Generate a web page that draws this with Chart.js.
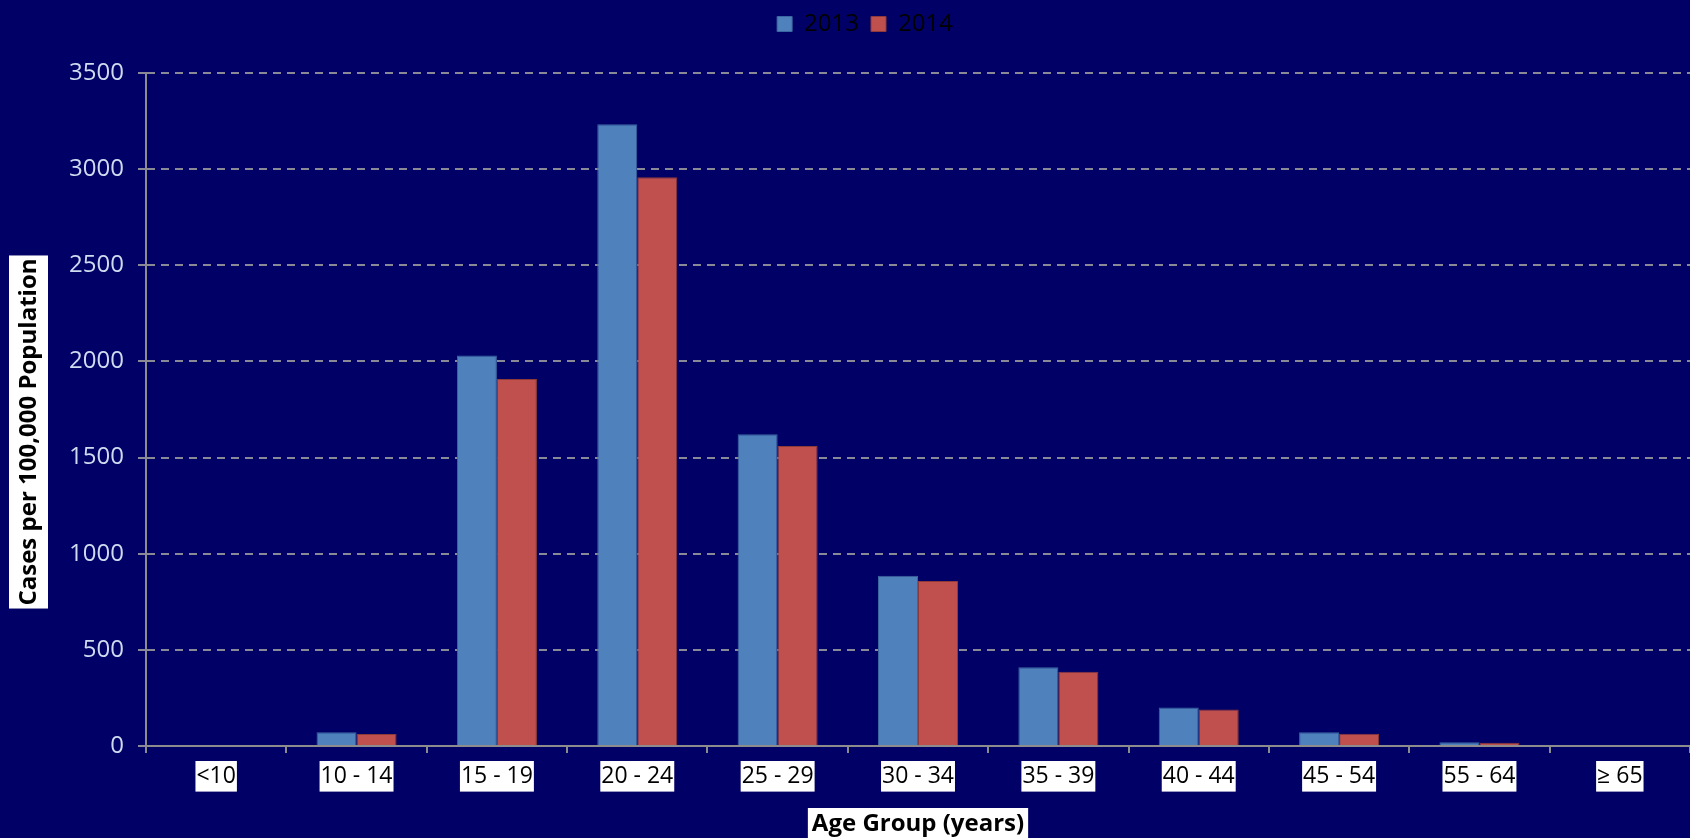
<!DOCTYPE html>
<html>
<head>
<meta charset="utf-8">
<script src="https://cdn.jsdelivr.net/npm/chart.js@4"></script>
<style>
  html, body { margin: 0; padding: 0; background: #000066; }
  #wrap { width: 1690px; height: 838px; }
</style>
</head>
<body>
<div id="wrap"><canvas id="chart"></canvas></div>
<script>
const ageGroups = ['<10', '10 - 14', '15 - 19', '20 - 24', '25 - 29', '30 - 34', '35 - 39', '40 - 44', '45 - 54', '55 - 64', '\u2265 65'];
const rates2013 = [0, 71, 2031, 3233, 1621, 886, 409, 200, 71, 19, 0];
const rates2014 = [0, 62, 1908, 2958, 1560, 858, 386, 190, 64, 17, 0];
const yTicks = [0, 500, 1000, 1500, 2000, 2500, 3000, 3500];

const FONT = "'Open Sans', sans-serif";

// axis titles sit on white boxes
const axisTitles = {
    id: 'axisTitles',
    afterDraw(chart) {
        const ctx = chart.ctx;
        const area = chart.chartArea;
        ctx.save();
        ctx.font = 'bold 24px ' + FONT;
        ctx.textAlign = 'center';
        ctx.textBaseline = 'middle';

        // x title
        const xt = 'Age Group (years)';
        const xw = ctx.measureText(xt).width + 8;
        const xc = (area.left + area.right) / 2;
        ctx.fillStyle = '#ffffff';
        ctx.fillRect(xc - xw / 2, 808, xw, 30);
        ctx.fillStyle = '#000000';
        ctx.fillText(xt, xc, 824);

        // y title
        const yt = 'Cases per 100,000 Population';
        const yw = ctx.measureText(yt).width + 6;
        ctx.translate(28.5, 432);
        ctx.rotate(-Math.PI / 2);
        ctx.fillStyle = '#ffffff';
        ctx.fillRect(-yw / 2, -19.5, yw, 39);
        ctx.fillStyle = '#000000';
        ctx.fillText(yt, 0, 1);
        ctx.restore();
    }
};

const bg = {
    id: 'bg',
    beforeDraw(chart) {
        const ctx = chart.ctx;
        ctx.save();
        ctx.fillStyle = '#000066';
        ctx.fillRect(0, 0, chart.width, chart.height);
        ctx.restore();
    }
};

// legend in the original sits a little right of the page centre
const legendShift = {
    id: 'legendShift',
    afterLayout(chart) {
        if (chart.legend) {
            chart.legend.left += 20;
            chart.legend.right += 20;
        }
    }
};

new Chart(document.getElementById('chart'), {
    type: 'bar',
    data: {
        labels: ageGroups,
        datasets: [
            {
                label: '2013',
                data: rates2013,
                backgroundColor: '#4f81bd',
                borderColor: '#3b67a0',
                borderWidth: 1,
                categoryPercentage: 0.57,
                barPercentage: 1
            },
            {
                label: '2014',
                data: rates2014,
                backgroundColor: '#c0504d',
                borderColor: '#8e3a38',
                borderWidth: 1,
                categoryPercentage: 0.57,
                barPercentage: 1
            }
        ]
    },
    options: {
        responsive: true,
        maintainAspectRatio: false,
        animation: false,
        layout: { padding: 0 },
        plugins: {
            legend: {
                position: 'top',
                weight: 1000,
                labels: {
                    color: '#000000',
                    boxWidth: 15,
                    boxHeight: 15,
                    padding: 12,
                    font: { family: FONT, size: 24 }
                }
            },
            // empty title used as a spacer between legend and plot
            title: {
                display: true,
                text: ' ',
                weight: 500,
                font: { size: 10, lineHeight: 1 },
                padding: { top: 0, bottom: 17 }
            },
            tooltip: { enabled: false }
        },
        scales: {
            x: {
                grid: {
                    offset: true,
                    drawOnChartArea: false,
                    drawTicks: true,
                    tickLength: 7,
                    color: '#8c8c8c',
                    lineWidth: 2
                },
                border: { color: '#8c8c8c', width: 2 },
                ticks: {
                    color: '#000000',
                    font: { family: FONT, size: 23 },
                    padding: 10,
                    maxRotation: 0,
                    autoSkip: false,
                    showLabelBackdrop: true,
                    backdropColor: '#ffffff',
                    backdropPadding: { top: 2, bottom: 1, left: 1, right: 1 }
                },
                afterFit(scale) { scale.height = 92; }
            },
            y: {
                min: 0,
                max: 3500,
                afterBuildTicks(scale) {
                    scale.ticks = yTicks.map(v => ({ value: v }));
                },
                grid: {
                    color: '#8a8a96',
                    lineWidth: 2,
                    tickLength: 8,
                    tickBorderDash: []
                },
                border: { color: '#8c8c8c', width: 2, dash: [8, 6] },
                ticks: {
                    color: '#cfdcf0',
                    font: { family: FONT, size: 24 },
                    padding: 14,
                    callback: v => String(v)
                },
                afterFit(scale) { scale.width = 146; }
            }
        }
    },
    plugins: [bg, legendShift, axisTitles]
});
</script>
</body>
</html>
